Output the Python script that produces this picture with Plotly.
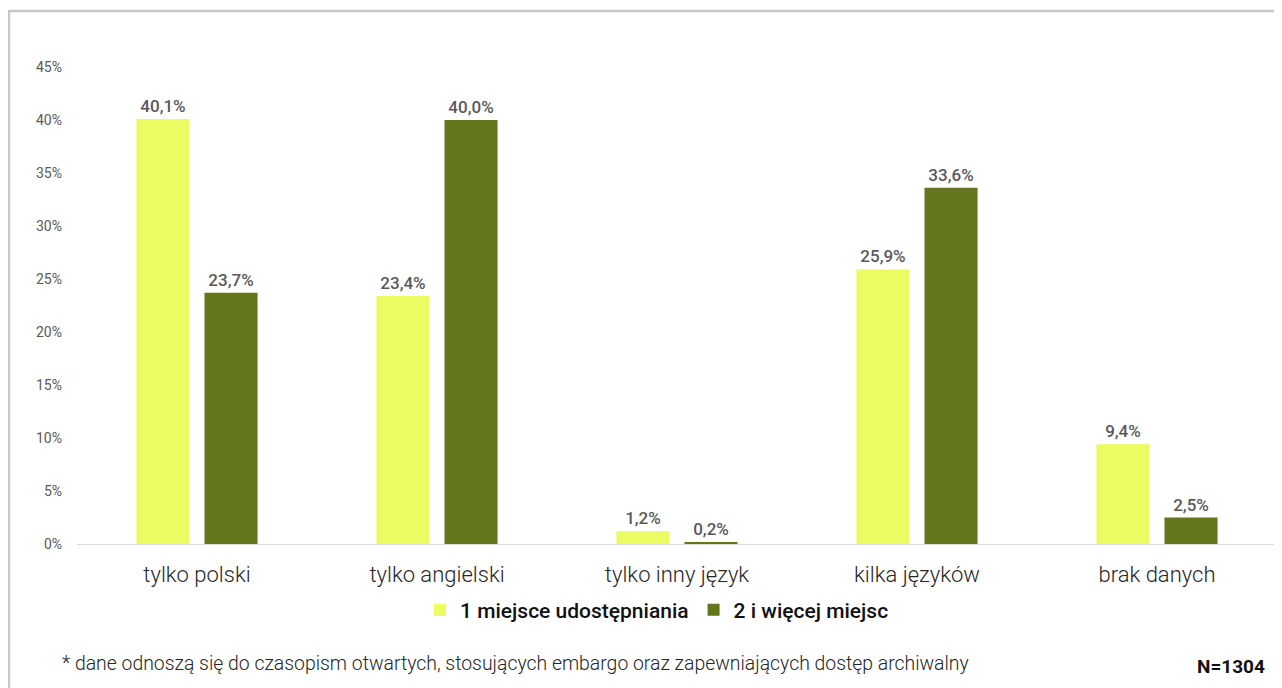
import plotly.graph_objects as go

categories = ["tylko polski", "tylko angielski", "tylko inny język", "kilka języków", "brak danych"]
series_names = ["1 miejsce udostępniania", "2 i więcej miejsc"]
values_one = [40.1, 23.4, 1.2, 25.9, 9.4]
values_two = [23.7, 40.0, 0.2, 33.6, 2.5]
colors = ["#EBFB61", "#64761C"]
y_ticks = [0, 5, 10, 15, 20, 25, 30, 35, 40, 45]
footnote = "* dane odnoszą się do czasopism otwartych, stosujących embargo oraz zapewniających dostęp archiwalny"
n_label = "N=1304"

OFF = 8  # default page body margin
W, H = 1282 - OFF, 688 - OFF
ML, MR, MT, MB = 77 - OFF, 5, 67 - OFF, 688 - 544
PW, PH = W - ML - MR, H - MT - MB


def px_x(x):
    return (x - OFF - ML) / PW


def px_y(y):
    return (H - MB - (y - OFF)) / PH


def fmt(v):
    return f"{v:.1f}%".replace(".", ",")


fig = go.Figure()
for name, vals, col in zip(series_names, [values_one, values_two], colors):
    fig.add_trace(go.Bar(
        x=categories, y=vals, name=name, marker=dict(color=col, line=dict(width=0)),
        text=[fmt(v) for v in vals], textposition="outside", cliponaxis=False,
        textfont=dict(family="Roboto", size=17, color="#595959", weight=500),
    ))

fig.update_layout(
    width=W, height=H,
    margin=dict(l=ML, r=MR, t=MT, b=MB),
    paper_bgcolor="white", plot_bgcolor="white",
    barmode="group", bargap=0.433, bargroupgap=0.22,
    font=dict(family="Roboto"),
    showlegend=True,
    legend=dict(orientation="h", x=px_x(657), xanchor="center", y=px_y(610), yanchor="middle",
                font=dict(family="Roboto", size=21, color="#111111", weight=500),
                tracegroupgap=0),
    xaxis=dict(showgrid=False, showline=True, linecolor="#D9D9D9", linewidth=1,
               ticks="", tickfont=dict(family="Roboto", size=22, color="#262626", weight=300),
               ticklabelstandoff=11),
    yaxis=dict(range=[0, 45], tickvals=y_ticks, ticktext=[f"{t}%" for t in y_ticks],
               showgrid=False, zeroline=False, showline=False, ticks="",
               tickfont=dict(family="Roboto", size=14, color="#595959"),
               ticklabelstandoff=14),
    shapes=[
        dict(type="line", xref="paper", yref="paper", x0=px_x(9), x1=px_x(1290), y0=px_y(11), y1=px_y(11),
             line=dict(color="#C8C8C8", width=2.5)),
        dict(type="line", xref="paper", yref="paper", x0=px_x(9), x1=px_x(9), y0=px_y(10), y1=px_y(700),
             line=dict(color="#C8C8C8", width=2.5)),
    ],
    annotations=[
        dict(text=footnote, xref="paper", yref="paper", x=px_x(60), y=px_y(663), xanchor="left",
             yanchor="middle", showarrow=False,
             font=dict(family="Roboto", size=19.4, color="#262626", weight=300)),
        dict(text=f"<b>{n_label}</b>", xref="paper", yref="paper", x=px_x(1267), y=px_y(666),
             xanchor="right", yanchor="middle", showarrow=False,
             font=dict(family="Roboto", size=19, color="#111111")),
    ],
)

fig.write_html("out.html")
